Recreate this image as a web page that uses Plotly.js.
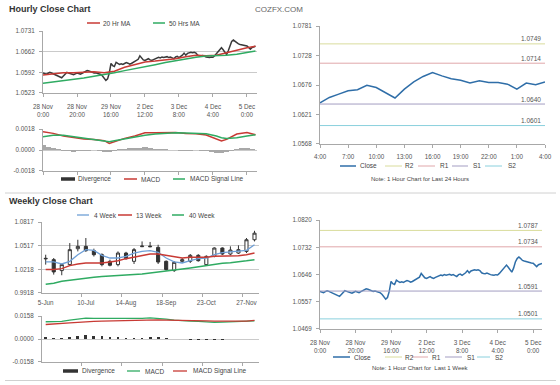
<!DOCTYPE html>
<html>
<head>
<meta charset="utf-8">
<script src="https://cdn.plot.ly/plotly-3.0.1.min.js"></script>
<style>html,body{margin:0;padding:0;background:#fff;}#chart{width:560px;height:385px;}</style>
</head>
<body>
<div id="chart"></div>
<script>
// ---------------- DATA ----------------
// Hourly close, last week (1 hour bars), index = hour from 28 Nov 0:00
const hourTickText = ['28 Nov<br>0:00','28 Nov<br>20:00','29 Nov<br>16:00','2 Dec<br>12:00','3 Dec<br>8:00','4 Dec<br>4:00','5 Dec<br>0:00'];
const hourTickIdx = [0,20,40,60,80,100,120];
const hourlyClose = [
1.0590,1.0588,1.0586,1.0589,1.0592,1.0590,1.0587,1.0585,1.0583,1.0580,
1.0576,1.0574,1.0580,1.0588,1.0592,1.0590,1.0588,1.0586,1.0584,1.0587,
1.0590,1.0588,1.0586,1.0589,1.0592,1.0595,1.0598,1.0597,1.0594,1.0592,
1.0590,1.0591,1.0589,1.0587,1.0585,1.0580,1.0572,1.0565,1.0570,1.0590,
1.0622,1.0615,1.0612,1.0626,1.0622,1.0619,1.0621,1.0619,1.0622,1.0625,
1.0623,1.0620,1.0622,1.0626,1.0629,1.0632,1.0636,1.0648,1.0642,1.0634,
1.0632,1.0635,1.0638,1.0634,1.0632,1.0635,1.0637,1.0640,1.0643,1.0641,
1.0644,1.0642,1.0643,1.0645,1.0642,1.0644,1.0641,1.0638,1.0644,1.0646,
1.0642,1.0645,1.0650,1.0657,1.0650,1.0656,1.0659,1.0660,1.0658,1.0660,
1.0657,1.0650,1.0648,1.0647,1.0649,1.0646,1.0644,1.0643,1.0642,1.0644,
1.0643,1.0648,1.0655,1.0660,1.0668,1.0675,1.0668,1.0660,1.0652,1.0665,
1.0685,1.0696,1.0701,1.0696,1.0690,1.0688,1.0686,1.0685,1.0684,1.0682,
1.0681,1.0676,1.0670,1.0676,1.0679,1.0680];
const maIdx = [0,6,12,18,24,30,36,42,48,54,60,66,72,78,84,90,96,102,108,114,120,125];
const ma20 = [1.0583,1.0587,1.0591,1.0591,1.0593,1.0594,1.0591,1.0596,1.0609,1.0619,1.0627,1.0630,1.0634,1.0638,1.0645,1.0650,1.0648,1.0650,1.0658,1.0667,1.0675,1.0680];
const ma50 = [1.0555,1.0559,1.0564,1.0568,1.0573,1.0579,1.0584,1.0591,1.0598,1.0604,1.0611,1.0618,1.0625,1.0631,1.0638,1.0643,1.0647,1.0648,1.0650,1.0653,1.0658,1.0664];
const hourYTicks = ['1.0523','1.0592','1.0662','1.0731'];

// Hourly MACD
const hMacdIdx = [0,6,12,18,24,30,36,39,42,48,54,60,66,72,78,84,90,96,102,105,108,114,120,125];
const hMacd   = [0.00157,0.00143,0.00120,0.00106,0.00094,0.00091,0.00080,0.00057,0.00071,0.00100,0.00120,0.00149,0.00149,0.00149,0.00151,0.00143,0.00140,0.00129,0.00091,0.00077,0.00091,0.00137,0.00151,0.00131];
const hSignal = [0.00114,0.00126,0.00126,0.00114,0.00100,0.00091,0.00080,0.00071,0.00080,0.00097,0.00111,0.00126,0.00137,0.00146,0.00149,0.00146,0.00143,0.00140,0.00120,0.00106,0.00100,0.00106,0.00120,0.00131];
const hDivIdx = [0,3,6,9,12,15,18,21,24,27,30,33,36,39,42,45,48,51,54,57,60,63,66,69,72,75,78,81,84,87,90,93,96,99,102,105,108,111,114,117,120,123];
const hDiv = [0.0004,0.0003,0.00015,0.00005,-0.00005,-0.00012,-0.00015,-0.0001,-0.00005,-0.00005,-0.00003,-0.00008,-0.00015,-0.0002,-0.0001,0.00005,0.0001,0.00015,0.0002,0.0002,0.00025,0.0002,0.0001,0.00008,0.00005,0.00003,0.0,-0.00005,-0.0001,-0.00005,0.0,-0.00005,-0.0001,-0.0002,-0.00025,-0.0003,-0.0002,-0.00005,0.00012,0.0002,0.00015,0.00005];
const hMacdTicks = ['-0.0018','0.0000','0.0018'];

// Last 24 hours
const dayTickText = ['4:00','7:00','10:00','13:00','16:00','19:00','22:00','1:00','4:00'];
const dayClose = [1.0642,1.0652,1.0658,1.0664,1.0666,1.0674,1.0670,1.0661,1.0651,1.0667,1.0680,1.0690,1.0697,1.0691,1.0686,1.0683,1.0678,1.0682,1.0679,1.0679,1.0676,1.0667,1.0678,1.0675,1.0680];
const dayYTicks = ['1.0568','1.0621','1.0676','1.0728','1.0781'];
const levelNames = ['R2','R1','S1','S2'];
const dayLevels = [1.0749,1.0714,1.0640,1.0601];
const dayLevelText = ['1.0749','1.0714','1.0640','1.0601'];

// Weekly candles
const weekTickText = ['5-Jun','10-Jul','14-Aug','18-Sep','23-Oct','27-Nov'];
const weekTickIdx = [0,5,10,15,20,25];
const wOpen  = [1.0350,1.0340,1.0201,1.0277,1.0479,1.0509,1.0454,1.0403,1.0319,1.0277,1.0424,1.0319,1.0505,1.0512,1.0496,1.0319,1.0201,1.0319,1.0319,1.0395,1.0277,1.0382,1.0488,1.0412,1.0424,1.0445,1.0593];
const wHigh  = [1.0403,1.0361,1.0290,1.0551,1.0593,1.0615,1.0480,1.0420,1.0340,1.0445,1.0440,1.0488,1.0572,1.0565,1.0530,1.0330,1.0320,1.0360,1.0412,1.0410,1.0395,1.0496,1.0496,1.0509,1.0522,1.0615,1.0707];
const wLow   = [1.0277,1.0150,1.0142,1.0260,1.0445,1.0440,1.0380,1.0255,1.0255,1.0255,1.0340,1.0285,1.0500,1.0498,1.0285,1.0200,1.0184,1.0298,1.0298,1.0315,1.0265,1.0370,1.0400,1.0395,1.0412,1.0424,1.0572];
const wClose = [1.0356,1.0184,1.0277,1.0467,1.0509,1.0454,1.0403,1.0277,1.0269,1.0424,1.0353,1.0467,1.0512,1.0505,1.0310,1.0214,1.0306,1.0340,1.0395,1.0327,1.0382,1.0488,1.0412,1.0462,1.0467,1.0593,1.0677];
const w4  = [1.0311,1.0311,1.0285,1.0319,1.0403,1.0467,1.0458,1.0395,1.0361,1.0361,1.0382,1.0424,1.0445,1.0454,1.0433,1.0361,1.0311,1.0298,1.0327,1.0353,1.0361,1.0403,1.0429,1.0437,1.0445,1.0458,1.0530];
const w13 = [1.0214,1.0214,1.0226,1.0264,1.0285,1.0298,1.0298,1.0298,1.0311,1.0327,1.0353,1.0370,1.0395,1.0412,1.0412,1.0395,1.0370,1.0361,1.0370,1.0370,1.0370,1.0382,1.0382,1.0382,1.0391,1.0403,1.0424];
const w40 = [1.0028,1.0040,1.0066,1.0080,1.0096,1.0106,1.0117,1.0125,1.0134,1.0140,1.0146,1.0152,1.0159,1.0170,1.0184,1.0196,1.0209,1.0222,1.0235,1.0250,1.0268,1.0282,1.0294,1.0302,1.0311,1.0325,1.0340];
const weekYTicks = ['0.9918','1.0218','1.0517','1.0817'];

// Weekly MACD
const wMacd   = [0.0119,0.0119,0.0121,0.0130,0.0139,0.0144,0.0142,0.0142,0.0139,0.0137,0.0137,0.0139,0.0142,0.0146,0.0144,0.0137,0.0130,0.0125,0.0123,0.0121,0.0116,0.0114,0.0116,0.0119,0.0121,0.0123,0.0125];
const wSignal = [0.0100,0.0102,0.0107,0.0111,0.0114,0.0119,0.0121,0.0123,0.0125,0.0125,0.0128,0.0130,0.0132,0.0132,0.0132,0.0130,0.0130,0.0128,0.0128,0.0125,0.0125,0.0123,0.0123,0.0121,0.0121,0.0123,0.0128];
const wDiv    = [0.0012,0.0010,0.0010,0.0015,0.0020,0.0025,0.0022,0.0020,0.0015,0.0012,0.0010,0.0009,0.0010,0.0013,0.0012,0.0006,0.0001,-0.0003,-0.0005,-0.0004,-0.0006,-0.0008,-0.0007,-0.0003,-0.0003,0.0000,-0.0003];
const wMacdTicks = ['-0.0158','0.0000','0.0158'];

// Last week (right)
const weekRYTicks = ['1.0469','1.0557','1.0646','1.0732','1.0820'];
const weekLevels = [1.0787,1.0734,1.0591,1.0501];
const weekLevelText = ['1.0787','1.0734','1.0591','1.0501'];

// ---------------- STYLE ----------------
const FONT = 'Liberation Sans, Arial, sans-serif';
const W = 560, H = 385;
const PX = p => p / W, PY = p => 1 - p / H;
const C = {
  close: '#3a3a3a', red: '#c83a34', green: '#2fab62', blue: '#2f6ea8', lblue: '#6f9fd6',
  R2: '#d9dc9c', R1: '#e0a7aa', S1: '#a39dc2', S2: '#8ad0dd', axis: '#a8a8a8', grid: '#cacaca', txt: '#555'
};
const levelColors = [C.R2, C.R1, C.S1, C.S2];

function evenTicks(labels) {
  const lo = parseFloat(labels[0]), hi = parseFloat(labels[labels.length - 1]);
  return labels.map((_, i) => lo + (hi - lo) * i / (labels.length - 1));
}
function rng(labels) {
  const lo = parseFloat(labels[0]), hi = parseFloat(labels[labels.length - 1]);
  const e = (hi - lo) * 0.002;
  return [lo - e, hi + e];
}
const seq = n => Array.from({length: n}, (_, i) => i);

function axis(extra) {
  return Object.assign({
    showline: true, linecolor: C.axis, linewidth: 1, ticks: 'outside', ticklen: 3, tickcolor: C.axis,
    tickfont: {family: FONT, size: 6.3, color: C.txt}, showgrid: false, zeroline: false, fixedrange: true,
    ticklabelstandoff: 3
  }, extra);
}

// ---------------- TRACES ----------------
const traces = [];
const line = (x, y, color, w, xa, ya) => ({type: 'scatter', mode: 'lines', x, y, xaxis: xa, yaxis: ya,
  line: {color, width: w}, hoverinfo: 'skip'});

traces.push(line(seq(hourlyClose.length), hourlyClose, C.close, 1.5, 'x', 'y'));
traces.push(line(maIdx, ma20, C.red, 1.5, 'x', 'y'));
traces.push(line(maIdx, ma50, C.green, 1.5, 'x', 'y'));

traces.push({type: 'bar', x: hDivIdx, y: hDiv, width: 3, xaxis: 'x2', yaxis: 'y2',
  marker: {color: '#a8a8a8', line: {width: 0}}, hoverinfo: 'skip'});
traces.push(line(hMacdIdx, hMacd, C.red, 1.5, 'x2', 'y2'));
traces.push(line(hMacdIdx, hSignal, C.green, 1.5, 'x2', 'y2'));

traces.push(line(seq(dayClose.length), dayClose, C.blue, 1.5, 'x3', 'y3'));

traces.push({type: 'candlestick', x: seq(wOpen.length), open: wOpen, high: wHigh, low: wLow, close: wClose,
  xaxis: 'x4', yaxis: 'y4', whiskerwidth: 0,
  increasing: {line: {color: '#333', width: 1}, fillcolor: '#ffffff'},
  decreasing: {line: {color: '#333', width: 1}, fillcolor: '#333333'}, hoverinfo: 'skip'});
traces.push(line(seq(w4.length), w4, C.lblue, 1.3, 'x4', 'y4'));
traces.push(line(seq(w13.length), w13, C.red, 1.5, 'x4', 'y4'));
traces.push(line(seq(w40.length), w40, C.green, 1.5, 'x4', 'y4'));

traces.push({type: 'bar', x: seq(wDiv.length), y: wDiv, width: 0.35, xaxis: 'x5', yaxis: 'y5',
  marker: {color: '#333', line: {width: 0}}, hoverinfo: 'skip'});
traces.push(line(seq(wMacd.length), wMacd, C.green, 1.3, 'x5', 'y5'));
traces.push(line(seq(wSignal.length), wSignal, C.red, 1.3, 'x5', 'y5'));

traces.push(line(seq(hourlyClose.length), hourlyClose, C.blue, 1.5, 'x6', 'y6'));

// ---------------- SHAPES / ANNOTATIONS ----------------
const shapes = [], annotations = [];
function txt(x, y, text, o) {
  annotations.push(Object.assign({xref: 'paper', yref: 'paper', x: PX(x), y: PY(y), text, showarrow: false,
    xanchor: 'left', yanchor: 'middle', font: {family: FONT, size: 6.5, color: '#444'}}, o || {}));
}
function seg(x0, x1, y, color, w) {
  shapes.push({type: 'line', xref: 'paper', yref: 'paper', x0: PX(x0), x1: PX(x1), y0: PY(y), y1: PY(y),
    line: {color, width: w}});
}
// levels
function levels(vals, labels, xa, ya, xr) {
  vals.forEach((v, i) => {
    shapes.push({type: 'line', xref: xa + ' domain', yref: ya, x0: 0, x1: 1, y0: v, y1: v,
      line: {color: levelColors[i], width: 1}});
    annotations.push({xref: xa + ' domain', yref: ya, x: xr, y: v, text: labels[i], showarrow: false,
      xanchor: 'right', yanchor: 'middle', yshift: 5, font: {family: FONT, size: 6.5, color: '#555'}});
  });
}
levels(dayLevels, dayLevelText, 'x3', 'y3', 0.99);
levels(weekLevels, weekLevelText, 'x6', 'y6', 0.99);

// titles
txt(7, 9.5, '<b>Hourly Close Chart</b>', {font: {family: FONT, size: 9, color: '#333'}});
txt(253, 9.5, 'COZFX.COM', {font: {family: FONT, size: 8, color: '#666'}});
txt(7, 201, '<b>Weekly Close Chart</b>', {font: {family: FONT, size: 9, color: '#333'}});
seg(5, 556, 193, '#d0d0d0', 1);
seg(5, 556, 380.5, '#d0d0d0', 1);

// legends
seg(87, 100, 23, C.red, 1.5); txt(101, 23, '20 Hr MA');
seg(153, 165, 23, C.green, 1.5); txt(167, 23, '50 Hrs MA');

seg(61, 75, 179, '#333', 3.5); txt(76, 179, 'Divergence');
seg(124, 137, 179, C.red, 1.5); txt(139, 179, 'MACD');
seg(173, 185, 179, C.green, 1.5); txt(188, 179, 'MACD Signal Line');

const legR = [[340, 356, C.blue, 'Close', 358], [385, 402, C.R2, 'R2', 403], [418, 435, C.R1, 'R1', 438],
  [452, 468, C.S1, 'S1', 471], [485, 502, C.S2, 'S2', 506]];
legR.forEach(l => { seg(l[0], l[1], 166, l[2], l[3] === 'Close' ? 1.5 : 1); txt(l[4], 166, l[3]); });
txt(420, 179, 'Note: 1 Hour Chart for Last 24 Hours', {xanchor: 'center', font: {family: FONT, size: 6, color: '#444'}});

seg(77, 89, 215, C.lblue, 1.3); txt(92, 215, '4 Week');
seg(118, 132, 215, C.red, 1.5); txt(134, 215, '13 Week');
seg(172, 184, 215, C.green, 1.5); txt(187, 215, '40 Week');

seg(63, 78, 371, '#333', 3.5); txt(80, 371, 'Divergence');
seg(127, 140, 371, C.green, 1.3); txt(143, 371, 'MACD');
seg(173, 187, 371, C.red, 1.3); txt(191, 371, 'MACD Signal Line');

const legW = [[333, 350, C.blue, 'Close', 352], [385, 402, C.R2, 'R2', 403], [412, 428, C.R1, 'R1', 430],
  [445, 462, C.S1, 'S1', 465], [477, 490, C.S2, 'S2', 493]];
legW.forEach(l => { seg(l[0], l[1], 357, l[2], l[3] === 'Close' ? 1.5 : 1); txt(l[4], 357, l[3]); });
txt(420, 368, 'Note: 1 Hour Chart for  Last 1 Week', {xanchor: 'center', font: {family: FONT, size: 6, color: '#444'}});

// ---------------- LAYOUT ----------------
const weekBounds = weekTickIdx.map(v => v - 0.5);
const layout = {
  width: W, height: H, margin: {l: 0, r: 0, t: 0, b: 0}, paper_bgcolor: '#fff', plot_bgcolor: 'rgba(0,0,0,0)',
  showlegend: false, bargap: 0, boxgap: 0.45, font: {family: FONT},
  xaxis: axis({domain: [PX(43), PX(257)], range: [0, 125.9], anchor: 'y', tickvals: hourTickIdx, ticktext: hourTickText, ticklabelstandoff: 4}),
  yaxis: axis({domain: [PY(93), PY(31)], range: rng(hourYTicks), anchor: 'x', tickvals: evenTicks(hourYTicks), ticktext: hourYTicks, showgrid: true, gridcolor: C.grid}),
  xaxis2: axis({domain: [PX(43), PX(257)], range: [0, 125.9], anchor: 'y2', tickvals: hourTickIdx, showticklabels: false}),
  yaxis2: axis({domain: [PY(171), PY(129)], range: rng(hMacdTicks), anchor: 'x2', tickvals: evenTicks(hMacdTicks), ticktext: hMacdTicks, showgrid: true, gridcolor: C.grid}),
  xaxis3: axis({domain: [PX(320), PX(545)], range: [0, 24], anchor: 'y3', tickvals: dayTickText.map((_, i) => i * 3), ticktext: dayTickText}),
  yaxis3: axis({domain: [PY(144), PY(26)], range: rng(dayYTicks), anchor: 'x3', tickvals: evenTicks(dayYTicks), ticktext: dayYTicks}),
  xaxis4: axis({domain: [PX(42), PX(259)], range: [-0.46, 26.56], anchor: 'y4', tickvals: weekTickIdx, ticktext: weekTickText, ticks: '',
    minor: {tickmode: 'array', tickvals: weekBounds, ticks: 'outside', ticklen: 3, tickcolor: C.axis}, rangeslider: {visible: false}}),
  yaxis4: axis({domain: [PY(293), PY(222)], range: rng(weekYTicks), anchor: 'x4', tickvals: evenTicks(weekYTicks), ticktext: weekYTicks, showgrid: true, gridcolor: C.grid}),
  xaxis5: axis({domain: [PX(42), PX(259)], range: [-0.46, 26.56], anchor: 'y5', tickvals: weekTickIdx, showticklabels: false, ticks: '',
    minor: {tickmode: 'array', tickvals: weekBounds, ticks: 'outside', ticklen: 3, tickcolor: C.axis}}),
  yaxis5: axis({domain: [PY(362), PY(316)], range: rng(wMacdTicks), anchor: 'x5', tickvals: evenTicks(wMacdTicks), ticktext: wMacdTicks, showgrid: true, gridcolor: C.grid}),
  xaxis6: axis({domain: [PX(320), PX(542)], range: [0, 125], anchor: 'y6', tickvals: hourTickIdx, ticktext: hourTickText, ticklabelstandoff: 4}),
  yaxis6: axis({domain: [PY(329), PY(220)], range: rng(weekRYTicks), anchor: 'x6', tickvals: evenTicks(weekRYTicks), ticktext: weekRYTicks}),
  shapes, annotations
};

Plotly.newPlot('chart', traces, layout, {staticPlot: true, displayModeBar: false});
</script>
</body>
</html>
